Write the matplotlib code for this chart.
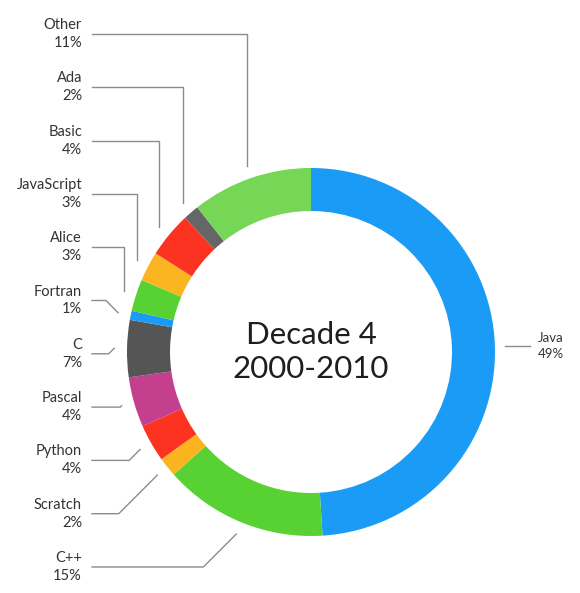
import numpy as np
import matplotlib
matplotlib.use('Agg')
import matplotlib.pyplot as plt

plt.rcParams['font.family'] = ['Lato', 'DejaVu Sans']

# --- data (clockwise from 12 o'clock) ---
langs = ['Java', 'C++', 'Scratch', 'Python', 'Pascal', 'C', 'Fortran',
         'Alice', 'JavaScript', 'Basic', 'Ada', 'Other']
shares = [49.0, 14.4, 1.7, 3.3, 4.4, 5.0, 0.8, 2.8, 2.6, 4.0, 1.4, 10.6]
pct_text = ['49%', '15%', '2%', '4%', '4%', '7%', '1%', '3%', '3%', '4%', '2%', '11%']
colors = ['#1a9bf5', '#58d132', '#f9b41f', '#fb3320', '#c43f8e', '#555555',
          '#1a9bf5', '#58d132', '#fbb520', '#fb3320', '#666666', '#76d655']
center_text = 'Decade 4\n2000-2010'

# --- layout (pixel units, y up) ---
W, H = 580, 593
CX, CY, R, RING = 311, H - 352, 184, 43
LINE_COL, TXT_COL = '#8c8c8c', '#333333'

fig = plt.figure(figsize=(W / 100, H / 100), dpi=100)
ax = fig.add_axes([0, 0, 1, 1])
wedges, _ = ax.pie(shares, colors=colors, startangle=90, counterclock=False,
                   center=(CX, CY), radius=R,
                   wedgeprops=dict(width=RING, linewidth=0))
ax.set_xlim(0, W); ax.set_ylim(0, H); ax.set_aspect('equal'); ax.axis('off')

ax.text(CX, CY, center_text, ha='center', va='center', fontsize=22.5,
        color='#1e1e1e', linespacing=1.25)

def end_point(w, f=1.07):
    a = np.deg2rad((w.theta1 + w.theta2) / 2)
    return CX + f * R * np.cos(a), CY + f * R * np.sin(a)

# Java on the right
px, py = end_point(wedges[0])
ax.plot([px - 3, 530], [py, py], color=LINE_COL, lw=1)
ax.text(538, py, f'{langs[0]}\n{pct_text[0]}', ha='left', va='center',
        fontsize=9.5, color=TXT_COL, linespacing=1.4)

# the rest stacked on the left
for i in range(1, len(langs)):
    k = len(langs) - 1 - i
    ly = H - (34 + k * 53.3)
    px, py = end_point(wedges[i])
    if ly > py + 20:
        xs, ys = [92, px, px], [ly, ly, py]
    else:
        d = abs(py - ly)
        xs, ys = [92, px - d, px], [ly, ly, py]
    ax.plot(xs, ys, color=LINE_COL, lw=1)
    ax.text(82, ly, f'{langs[i]}\n{pct_text[i]}', ha='right', va='center',
            multialignment='right', fontsize=10.5, color=TXT_COL, linespacing=1.35)

fig.savefig('out.png', dpi=100, facecolor='white')
